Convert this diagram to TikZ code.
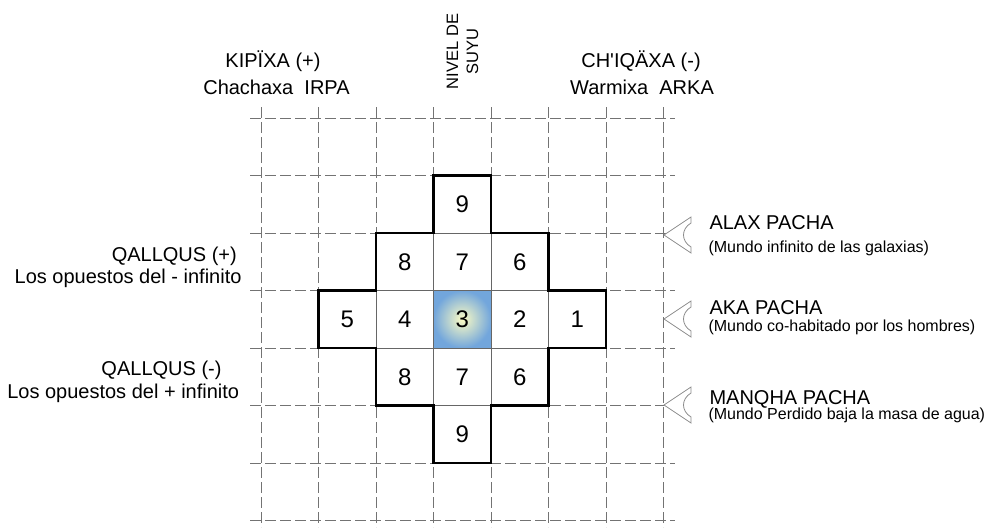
\documentclass[tikz,border=0pt]{standalone}
\usepackage{fontspec}
\setmainfont{Liberation Sans}
\usetikzlibrary{matrix}

\definecolor{suyublue}{RGB}{114,166,220}
\definecolor{suyuglow}{RGB}{252,252,196}

\tikzset{
  rejilla/.style={draw=black!55, line width=0.8pt, dash pattern=on 11pt off 4pt},
  cell/.style={draw=black!60, line width=0.7pt, fill=white, minimum size=57.5pt,
               inner sep=0pt, outer sep=0pt, font=\fontsize{24}{26}\selectfont},
  centro/.style={inner color=suyuglow, outer color=suyublue},
  contorno/.style={draw=black, line width=2.1pt, line join=miter},
  marca/.style={draw=black!45, line width=0.8pt, fill=white, line join=miter},
  titulo/.style={font=\fontsize{20}{22}\selectfont, inner sep=0pt},
  nota/.style={font=\fontsize{16}{18}\selectfont, inner sep=0pt}
}

\begin{document}
\begin{tikzpicture}[x=1pt,y=-1pt]
\useasboundingbox (0,0) rectangle (987,527);

% dashed grid
\foreach \i in {0,...,7} {
  \draw[rejilla] (261+57.5*\i,107) -- (261+57.5*\i,527);
  \draw[rejilla] (250,118+57.5*\i) -- (675,118+57.5*\i);
}

% the cross of suyus
\matrix[column sep={57.5pt,between origins},
        row sep={57.5pt,between origins},
        nodes={cell}] (cruz) at (462.25,319.25)
{                &                 & \node(n9a){9};        &                 &               \\
                 & \node(n8a){8};  & \node(n7a){7};        & \node(n6a){6};  &               \\
  \node(n5){5};  & \node(n4){4};   & \node[centro](n3){3}; & \node(n2){2};   & \node(n1){1}; \\
                 & \node(n8b){8};  & \node(n7b){7};        & \node(n6b){6};  &               \\
                 &                 & \node(n9b){9};        &                 &               \\};

\draw[contorno] (n9a.north west) -- (n9a.north east) -- (n9a.south east)
  -- (n6a.north east) -- (n6a.south east) -- (n1.north east) -- (n1.south east)
  -- (n6b.north east) -- (n6b.south east) -- (n9b.north east) -- (n9b.south east)
  -- (n9b.south west) -- (n9b.north west) -- (n8b.south west) -- (n8b.north west)
  -- (n5.south west) -- (n5.north west) -- (n8a.south west) -- (n8a.north west)
  -- (n9a.south west) -- cycle;

% pointers to the three pachas
\foreach \y in {235,319,405} {
  \begin{scope}[shift={(664,\y)}]
    \draw[marca] (0,0) -- (27,-18) -- (27,-12) .. controls (17,-6) and (17,6) .. (27,12)
      -- (27,18) -- cycle;
  \end{scope}
}

% top labels
\node[titulo, anchor=base] (kipixa)   at (273,67.5) {KIPÏXA (+)};
\node[titulo, anchor=base] (irpa)     at (276.5,94) {Chachaxa\ \ IRPA};
\node[titulo, anchor=base] (chiqaxa)  at (641,67.5) {CH\textquotesingle IQÄXA (-)};
\node[titulo, anchor=base] (arka)     at (642,94)   {Warmixa\ \ ARKA};
\node[inner sep=0pt, rotate=90, align=center,
      font=\fontsize{16.5}{20}\selectfont] (nivel) at (462.5,51.5) {NIVEL DE\\SUYU};

% left labels
\node[titulo, anchor=base east] (qallqusa) at (237,261.7)   {QALLQUS (+)};
\node[titulo, anchor=base east] (opuestoa) at (241.7,283.3) {Los opuestos del - infinito};
\node[titulo, anchor=base east] (qallqusb) at (221.7,375)   {QALLQUS (-)};
\node[titulo, anchor=base east] (opuestob) at (239.3,398.3) {Los opuestos del + infinito};

% right labels
\node[titulo, anchor=base west] (alax)    at (709.3,229)   {ALAX PACHA};
\node[nota,   anchor=base west] (alaxs)   at (708.3,252.7) {(Mundo infinito de las galaxias)};
\node[titulo, anchor=base west] (aka)     at (709.3,314.3) {AKA PACHA};
\node[nota,   anchor=base west] (akas)    at (708.3,331)   {(Mundo co-habitado por los hombres)};
\node[titulo, anchor=base west] (manqha)  at (709.3,404.3) {MANQHA PACHA};
\node[nota,   anchor=base west] (manqhas) at (708.3,419.3) {(Mundo Perdido baja la masa de agua)};
\end{tikzpicture}
\end{document}
